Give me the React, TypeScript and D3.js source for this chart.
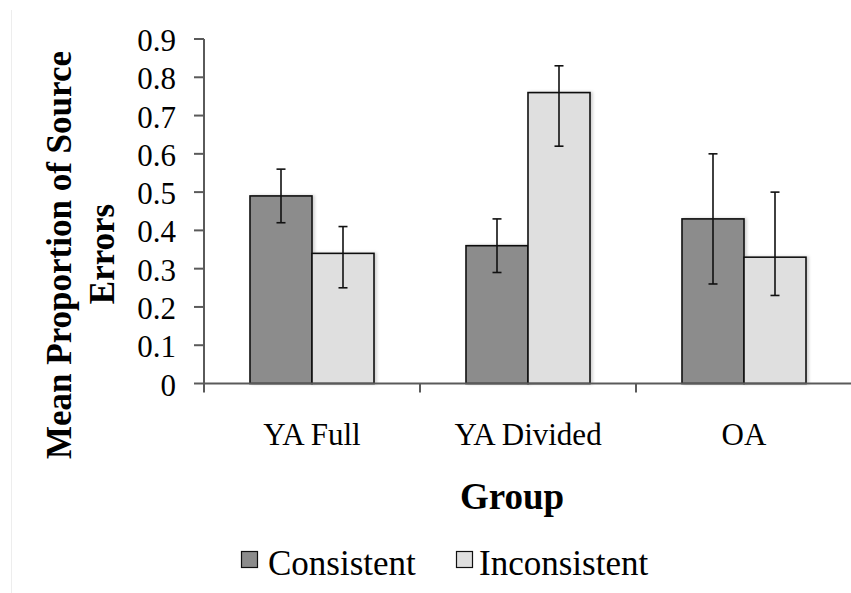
import React from "react";
import * as d3 from "d3";

const categories = ["YA Full", "YA Divided", "OA"];
const seriesNames = ["Consistent", "Inconsistent"];
const consistentMeans = [0.49, 0.36, 0.43];
const consistentLow = [0.42, 0.29, 0.26];
const consistentHigh = [0.56, 0.43, 0.6];
const inconsistentMeans = [0.34, 0.76, 0.33];
const inconsistentLow = [0.25, 0.62, 0.23];
const inconsistentHigh = [0.41, 0.83, 0.5];
const yTicks = [0, 0.1, 0.2, 0.3, 0.4, 0.5, 0.6, 0.7, 0.8, 0.9];
const colors = ["#8c8c8c", "#dfdfdf"];

const W = 851;
const H = 593;
const FONT = "Liberation Serif, Times New Roman, Times, serif";

export default function App() {
  const x0 = d3.scaleBand<string>().domain(categories).range([204, 852]).paddingInner(0).paddingOuter(0);
  const bw = x0.bandwidth();
  const x1 = d3.scaleBand<string>().domain(seriesNames).range([bw / 2 - 62, bw / 2 + 62]).padding(0);
  const y = d3.scaleLinear().domain([0, 0.9]).range([383.5, 39]);

  const series = [
    { name: seriesNames[0], means: consistentMeans, lo: consistentLow, hi: consistentHigh, color: colors[0] },
    { name: seriesNames[1], means: inconsistentMeans, lo: inconsistentLow, hi: inconsistentHigh, color: colors[1] },
  ];

  const axisColor = "#5a5a5a";
  const catTicks = [...categories.map((c) => x0(c) as number), 852];

  return (
    <svg width={W} height={H} style={{ position: "absolute", left: 0, top: 0, background: "#fff" }}>
      <defs>
        <filter id="shadow" x="-20%" y="-20%" width="140%" height="140%">
          <feDropShadow dx="2" dy="0" stdDeviation="1.5" floodColor="#000" floodOpacity="0.18" />
        </filter>
      </defs>
      <line x1={11.5} x2={11.5} y1={10} y2={H} stroke="#ededed" strokeWidth={1} />

      {/* bars */}
      {series.map((s) =>
        categories.map((c, i) => {
          const bx = (x0(c) as number) + (x1(s.name) as number);
          const w = x1.bandwidth();
          return (
            <rect
              key={s.name + c}
              x={bx}
              y={y(s.means[i])}
              width={w}
              height={y(0) - y(s.means[i])}
              fill={s.color}
              stroke="#111"
              strokeWidth={1.6}
              filter="url(#shadow)"
            />
          );
        })
      )}

      {/* error bars */}
      {series.map((s) =>
        categories.map((c, i) => {
          const cx = (x0(c) as number) + (x1(s.name) as number) + x1.bandwidth() / 2;
          return (
            <g key={"e" + s.name + c} stroke="#111" strokeWidth={1.6}>
              <line x1={cx} x2={cx} y1={y(s.hi[i])} y2={y(s.lo[i])} />
              <line x1={cx - 4.5} x2={cx + 4.5} y1={y(s.hi[i])} y2={y(s.hi[i])} />
              <line x1={cx - 4.5} x2={cx + 4.5} y1={y(s.lo[i])} y2={y(s.lo[i])} />
            </g>
          );
        })
      )}

      {/* y axis */}
      <line x1={204} x2={204} y1={y(0.9)} y2={y(0)} stroke={axisColor} strokeWidth={2} />
      {yTicks.map((t) => (
        <g key={t}>
          <line x1={194} x2={204} y1={y(t)} y2={y(t)} stroke={axisColor} strokeWidth={2} />
          <text x={176} y={y(t) + 12} textAnchor="end" fontFamily={FONT} fontSize={31} fill="#000">
            {d3.format("")(t)}
          </text>
        </g>
      ))}

      {/* x axis */}
      <line x1={204} x2={852} y1={y(0)} y2={y(0)} stroke={axisColor} strokeWidth={2} />
      {catTicks.map((tx, i) => (
        <line key={i} x1={tx} x2={tx} y1={y(0)} y2={y(0) + 9} stroke={axisColor} strokeWidth={2} />
      ))}
      {categories.map((c) => (
        <text key={c} x={(x0(c) as number) + bw / 2} y={445} textAnchor="middle" fontFamily={FONT} fontSize={31} fill="#000">
          {c}
        </text>
      ))}

      {/* axis titles */}
      <text x={512} y={509} textAnchor="middle" fontFamily={FONT} fontSize={37} fontWeight="bold" fill="#000">
        Group
      </text>
      <text transform="translate(71,255) rotate(-90)" textAnchor="middle" fontFamily={FONT} fontSize={35} fontWeight="bold" fill="#000">
        Mean Proportion of Source
      </text>
      <text transform="translate(114,254) rotate(-90)" textAnchor="middle" fontFamily={FONT} fontSize={35} fontWeight="bold" fill="#000">
        Errors
      </text>

      {/* legend */}
      {[
        { sx: 241.5, tx: 268, name: seriesNames[0], color: colors[0] },
        { sx: 456.5, tx: 479, name: seriesNames[1], color: colors[1] },
      ].map((l) => (
        <g key={l.name}>
          <rect x={l.sx} y={551.5} width={16} height={16} fill={l.color} stroke="#111" strokeWidth={1.2} />
          <text x={l.tx} y={575} fontFamily={FONT} fontSize={35} fill="#000">
            {l.name}
          </text>
        </g>
      ))}
    </svg>
  );
}
